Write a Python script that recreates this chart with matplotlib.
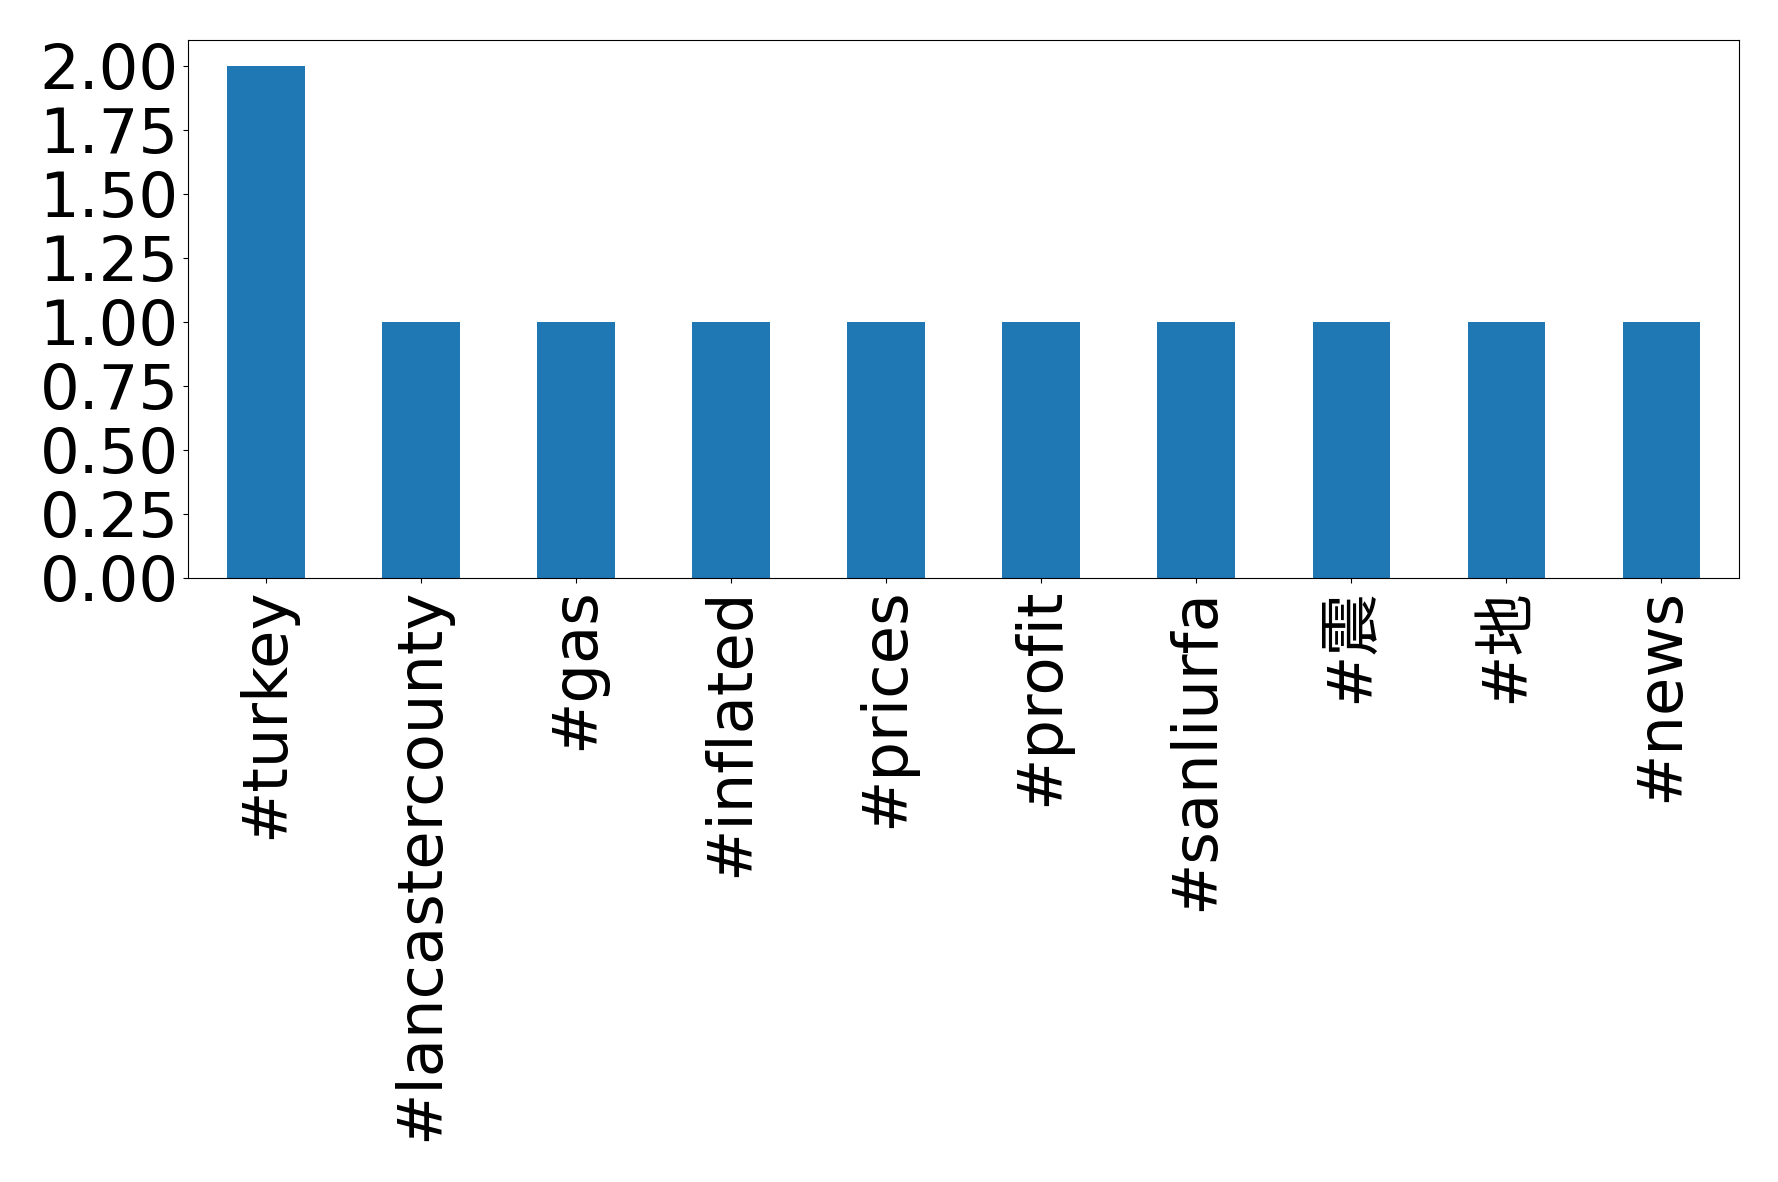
import matplotlib
matplotlib.use("Agg")
import matplotlib.pyplot as plt
import pandas as pd

# DejaVu for latin text, CJK family as fallback for the single-character tags
plt.rcParams['font.family'] = ['DejaVu Sans', 'Noto Sans CJK SC']

# hashtag counts
hashtags = ['#turkey', '#lancastercounty', '#gas', '#inflated', '#prices',
            '#profit', '#sanliurfa', '#震', '#地', '#news']
counts = [2, 1, 1, 1, 1, 1, 1, 1, 1, 1]

s = pd.Series(counts, index=hashtags)

fig = plt.figure(figsize=(17.78, 11.82), dpi=100)
ax = fig.add_axes([0.106, 0.511, 0.872, 0.455])
s.plot(kind='bar', ax=ax, color='#1f77b4', fontsize=45)
ax.set_ylim(0, 2.1)
ax.set_yticks([0, 0.25, 0.5, 0.75, 1.0, 1.25, 1.5, 1.75, 2.0])
ax.set_yticklabels(['0.00', '0.25', '0.50', '0.75', '1.00', '1.25', '1.50', '1.75', '2.00'])

fig.savefig('out.png', dpi=100)
